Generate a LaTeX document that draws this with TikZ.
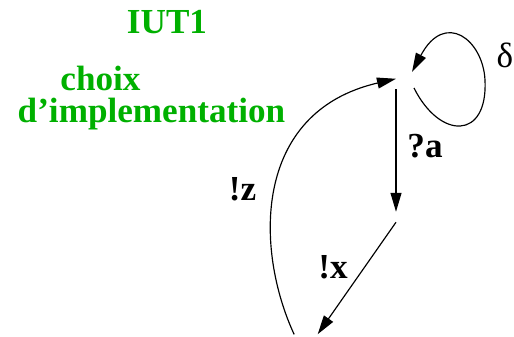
\documentclass[tikz,border=0pt]{standalone}
\usepackage{fontspec}
\setmainfont{Liberation Serif}
\usepackage{xcolor}
\usetikzlibrary{arrows.meta}
\definecolor{iutgreen}{RGB}{0,176,0}
\tikzset{
  state/.style={circle, inner sep=0pt, minimum size=0.3cm},
  trans/.style={-{Triangle[length=0.57cm, width=0.33cm]}, line width=0.035cm},
  tlabel/.style={font=\fontsize{30}{34}\selectfont\bfseries, anchor=base, inner sep=0pt},
  title/.style={tlabel, text=iutgreen}
}
\begin{document}
\begin{tikzpicture}[x=0.03cm, y=-0.03cm]
    \useasboundingbox (0,0) rectangle (514,336);

    % titles
    \node[title] (iut) at (167,33) {IUT1};
    \node[title] (choix) at (100.5,90) {choix};
    \node[title] (impl) at (151.5,122) {d'implementation};

    % states (not drawn)
    \node[state] (s0) at (396,84) {};
    \node[state] (s1) at (396,217) {};
    \node[state, minimum size=0.9cm] (s2) at (306,344) {};

    % transitions
    \draw[trans] (s0.south) -- (s1.north);
    \draw[trans] (s1.south) -- (s2.40);
    \draw[trans] (s2.141) .. controls (255,250) and (252,112) .. (s0.north);
    % quiescence loop
    \draw[trans] ([shift={(18,4)}]s0.center) .. controls (440,140) and (488,140) .. (485,80)
      .. controls (483,40) and (445,10) .. ([shift={(16,-12)}]s0.center);

    % labels
    \node[tlabel] (la) at (425,157) {?a};
    \node[tlabel] (lx) at (333,278) {!x};
    \node[tlabel] (lz) at (242.5,200.5) {!z};
    \node[anchor=base, inner sep=0pt, font=\fontsize{30}{34}\selectfont] (ld) at (505,67) {δ};
\end{tikzpicture}
\end{document}
